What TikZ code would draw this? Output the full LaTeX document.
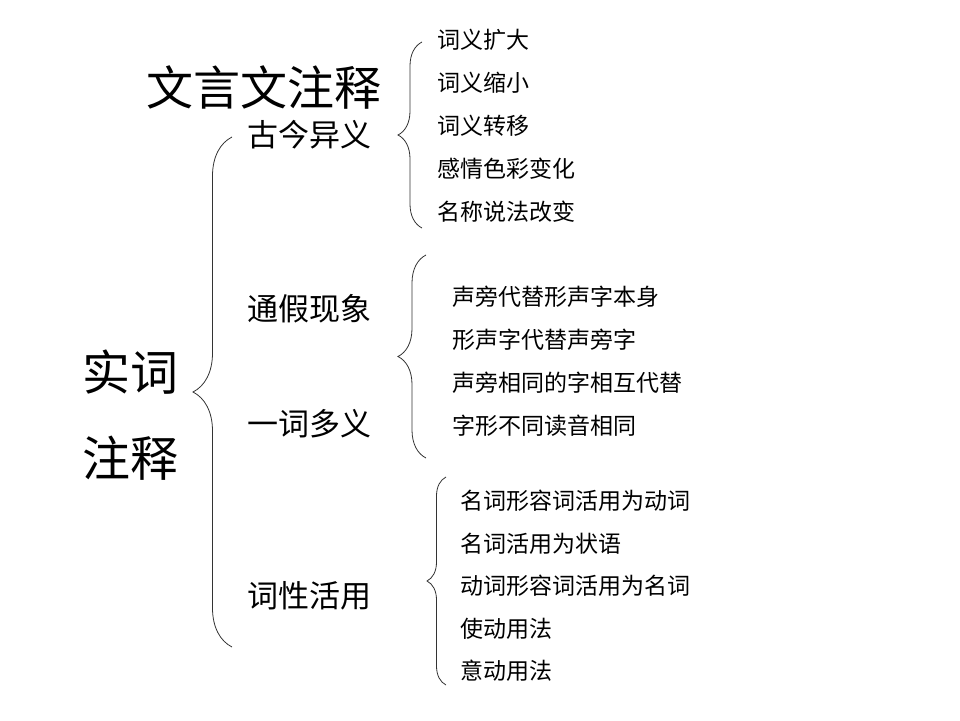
\documentclass[tikz,border=0pt]{standalone}
\usepackage{fontspec}
\setmainfont{Noto Sans CJK SC}
\usetikzlibrary{decorations.pathreplacing}
\tikzset{x=1pt, y=-1pt,
    title/.style={font=\fontsize{47}{50}\selectfont, inner sep=0pt},
    root/.style={font=\fontsize{48}{52}\selectfont, inner sep=0pt},
    cat/.style={font=\fontsize{31}{34}\selectfont, anchor=west, inner sep=0pt},
    item/.style={font=\fontsize{23}{26}\selectfont, anchor=west, inner sep=0pt},
    curly/.style={decorate, decoration={brace, amplitude=#1}, line width=0.8pt, black!80},
    }
\begin{document}
\begin{tikzpicture}
	\useasboundingbox (0,0) rectangle (960,720);
	\node[title] (title) at (264,87) {文言文注释};
	\node[root] (shi) at (130,372) {实词};
	\node[root] (zhu) at (130,458) {注释};
	% main brace
	\coordinate (maintop) at (232,137);
	\coordinate (mainbot) at (232,647);
	\draw[curly=39] (mainbot) -- (maintop);
	\node[cat] (gujin) at (247,135) {古今异义};
	\node[cat] (tongjia) at (247,309) {通假现象};
	\node[cat] (yici) at (247,424) {一词多义};
	\node[cat] (cixing) at (247,596) {词性活用};
	% gujin
	\coordinate (gujintop) at (422,42);
	\coordinate (gujinbot) at (422,228);
	\draw[curly=24] (gujinbot) -- (gujintop);
	\node[item] (kuoda) at (437,40) {词义扩大};
	\node[item] (suoxiao) at (437,83) {词义缩小};
	\node[item] (zhuanyi) at (437,126) {词义转移};
	\node[item] (ganqing) at (437,169) {感情色彩变化};
	\node[item] (mingcheng) at (437,212) {名称说法改变};
	% tongjia / yici
	\coordinate (tongjiatop) at (426,255);
	\coordinate (tongjiabot) at (426,458);
	\draw[curly=28] (tongjiabot) -- (tongjiatop);
	\node[item] (shengpang) at (452,297) {声旁代替形声字本身};
	\node[item] (xingsheng) at (452,340) {形声字代替声旁字};
	\node[item] (xiangtong) at (452,383) {声旁相同的字相互代替};
	\node[item] (duyin) at (452,426) {字形不同读音相同};
	% cixing
	\coordinate (cixingtop) at (446,477);
	\coordinate (cixingbot) at (446,685);
	\draw[curly=19] (cixingbot) -- (cixingtop);
	\node[item] (mingdong) at (460,501) {名词形容词活用为动词};
	\node[item] (zhuangyu) at (460,544) {名词活用为状语};
	\node[item] (dongming) at (460,586) {动词形容词活用为名词};
	\node[item] (shidong) at (460,629) {使动用法};
	\node[item] (yidong) at (460,671) {意动用法};
\end{tikzpicture}
\end{document}
